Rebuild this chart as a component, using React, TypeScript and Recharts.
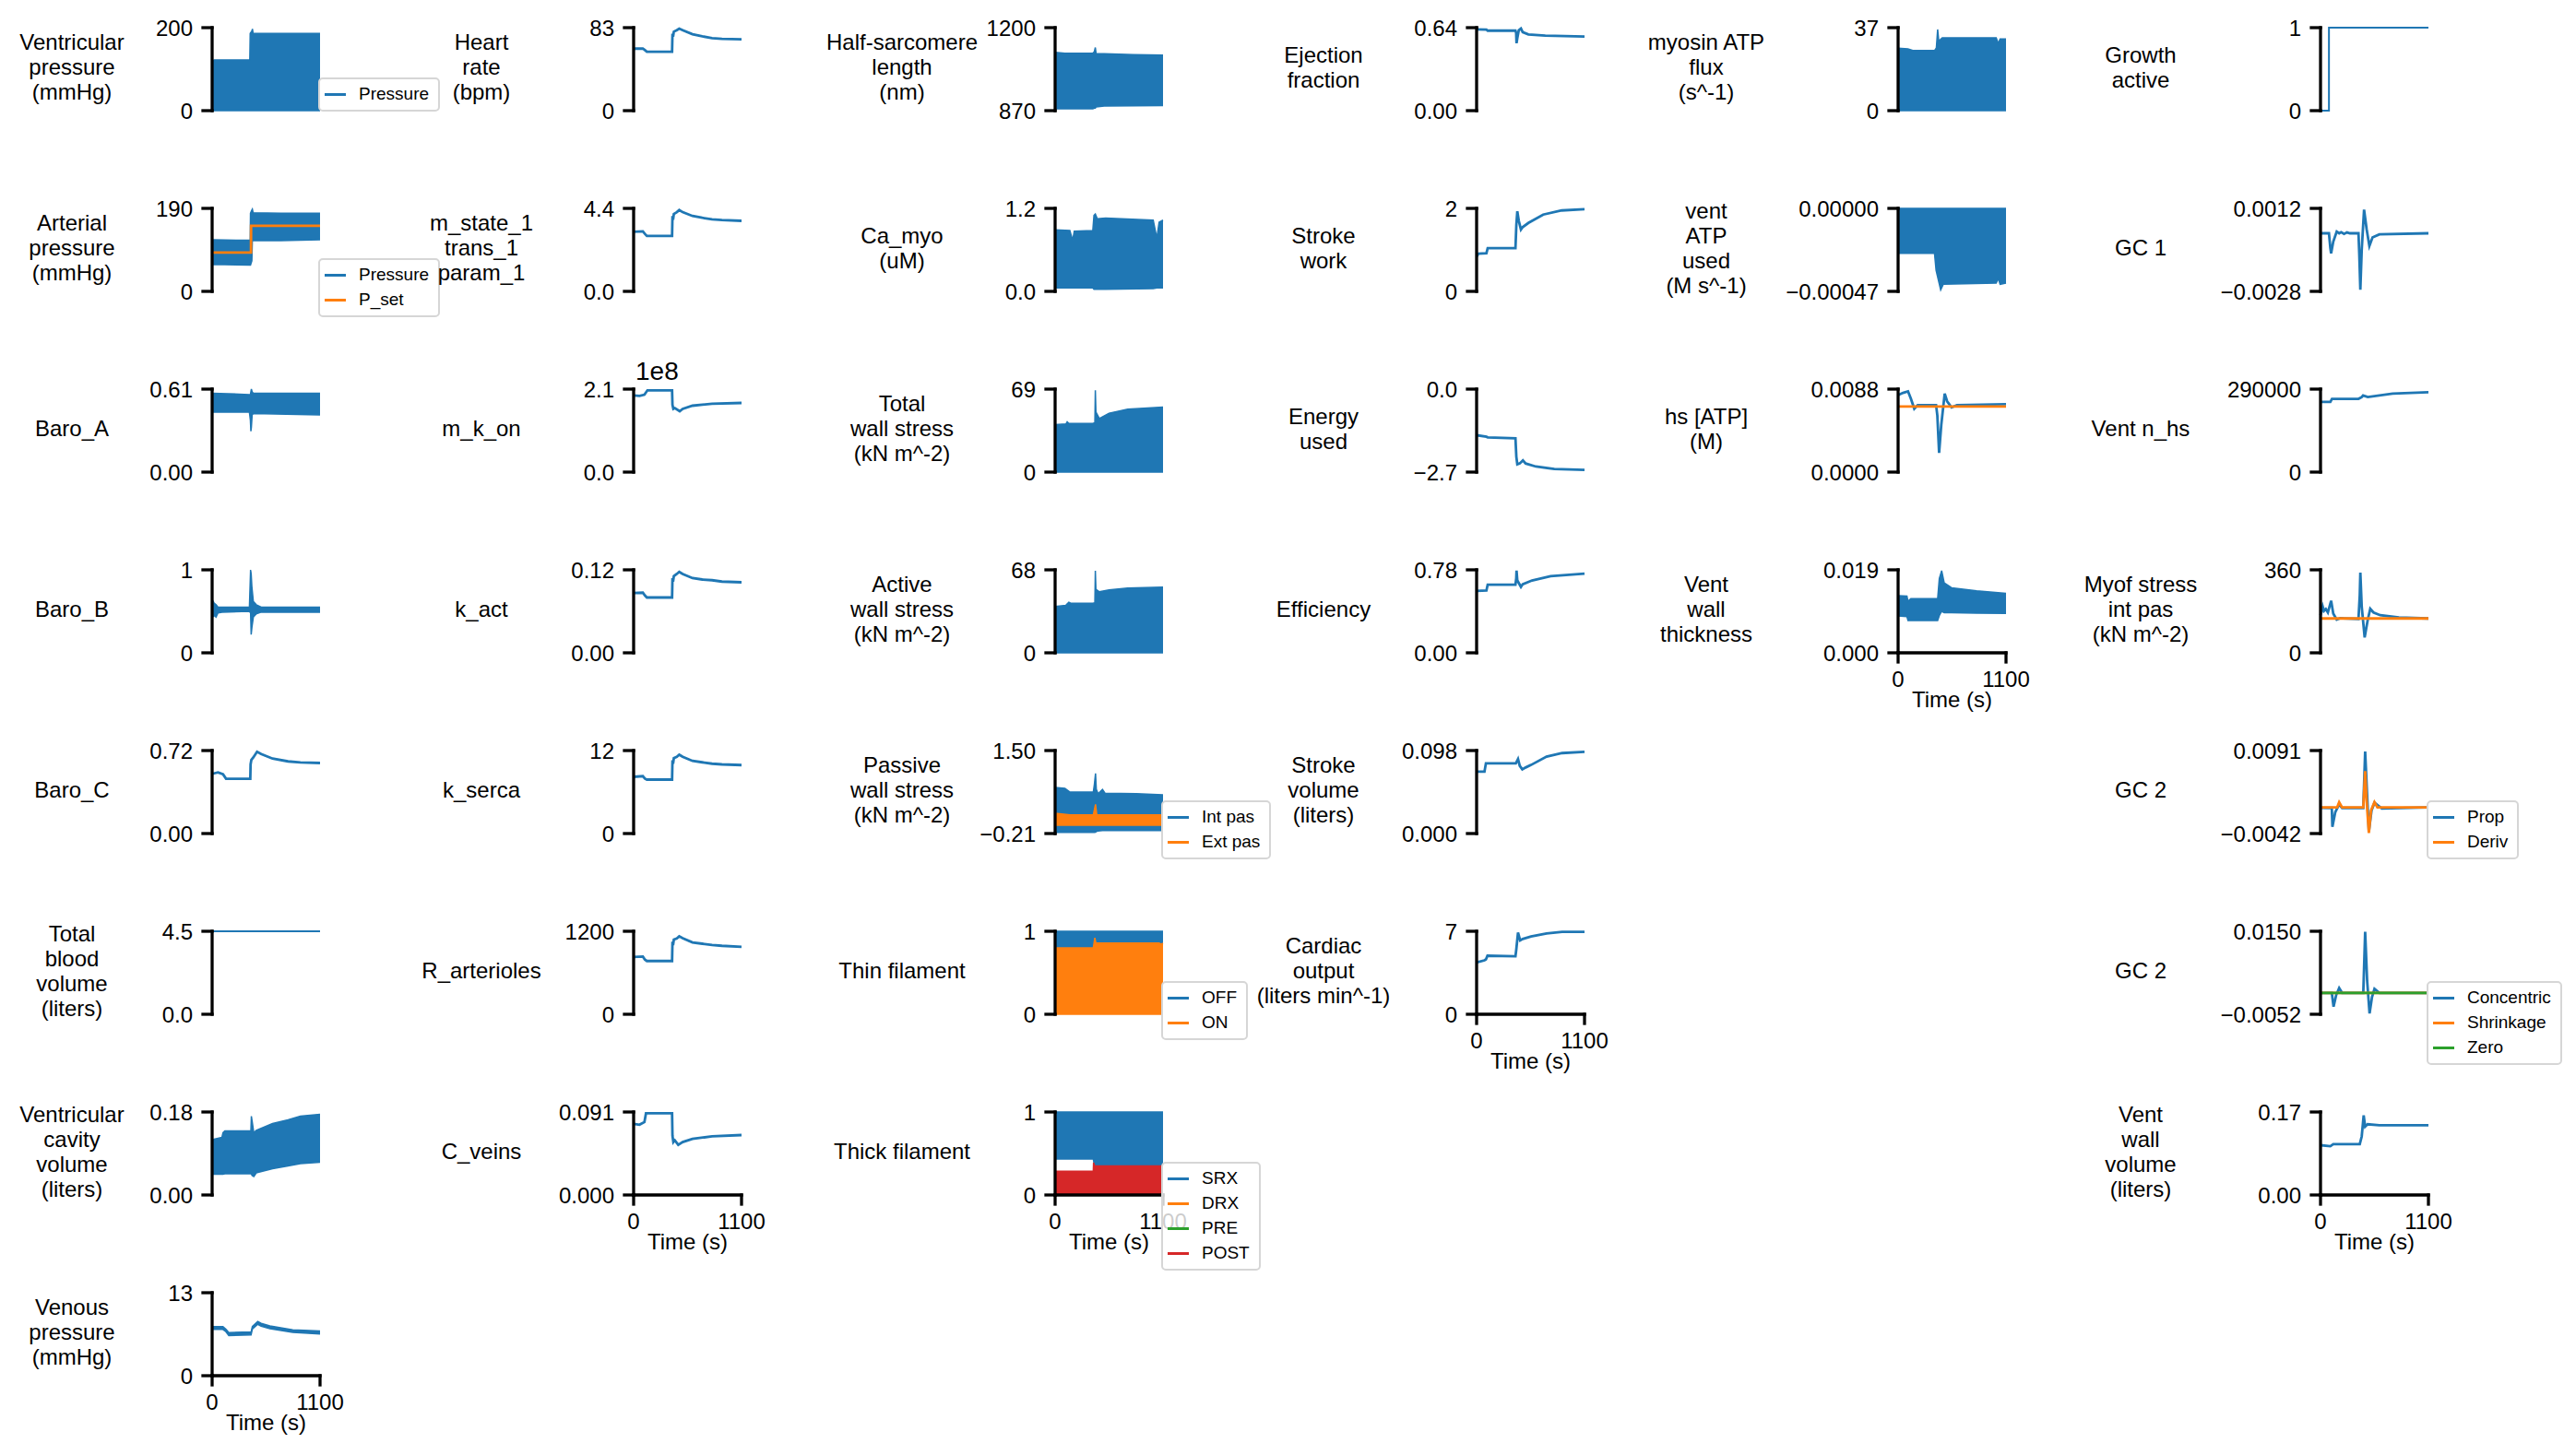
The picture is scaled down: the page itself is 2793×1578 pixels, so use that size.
import React from 'react';
import { ComposedChart, Line, Area, XAxis, YAxis } from 'recharts';

const BLUE = '#1f77b4';
const ORANGE = '#ff7f0e';
const GREEN = '#2ca02c';
const RED = '#d62728';
const FONT = '"Liberation Sans", Arial, Helvetica, sans-serif';

// --- time axis ---
const timeTicks = [0, 1100];
const timeTickLabels = ['0', '1100'];

// --- column 1 --- (bands are [t, low, high], lines are [t, value])
const ventPressure = [[0, 0, 118], [20, 0, 122], [384, 0, 122], [388, 0, 186], [405, 0, 192], [411, 0, 197], [418, 0, 186], [700, 0, 186], [1100, 0, 186]];
const artPressure = [[0, 60, 116], [10, 62, 118], [388, 60, 117], [391, 60, 179], [405, 70, 186], [410, 116, 188], [418, 116, 180], [700, 116, 179], [1100, 118, 179]];
const artPSet = [[0, 89], [396, 89], [397, 150], [1100, 150]];
const baroA = [[0, 0.44, 0.58], [380, 0.44, 0.57], [390, 0.38, 0.57], [395, 0.3, 0.59], [400, 0.33, 0.61], [408, 0.42, 0.59], [420, 0.43, 0.58], [1100, 0.42, 0.58]];
const baroB = [[0, 0.5, 0.55], [5, 0.43, 0.63], [20, 0.45, 0.6], [40, 0.43, 0.58], [60, 0.48, 0.55], [100, 0.49, 0.55], [380, 0.5, 0.55], [392, 0.48, 1.0], [398, 0.22, 0.95], [405, 0.3, 0.8], [420, 0.43, 0.62], [450, 0.47, 0.58], [500, 0.49, 0.55], [1100, 0.49, 0.55]];
const baroC = [[0, 0.518], [60, 0.53], [111, 0.515], [142, 0.475], [389, 0.475], [392, 0.6], [400, 0.64], [420, 0.66], [458, 0.71], [500, 0.69], [616, 0.65], [774, 0.626], [900, 0.617], [1100, 0.612]];
const totalBloodVolume = [[0, 4.5], [1100, 4.5]];
const ventCavityVolume = [[0, 0.045, 0.12], [100, 0.045, 0.125], [111, 0.045, 0.135], [130, 0.046, 0.139], [395, 0.046, 0.139], [400, 0.045, 0.171], [408, 0.042, 0.16], [425, 0.04, 0.135], [450, 0.048, 0.14], [616, 0.057, 0.155], [774, 0.063, 0.163], [900, 0.068, 0.171], [1100, 0.071, 0.175]];
const venousPressure = [[0, 7.25, 7.7], [110, 7.25, 7.7], [140, 6.9, 7.3], [170, 6.3, 6.75], [397, 6.4, 6.85], [410, 7.3, 7.7], [465, 8.05, 8.5], [500, 7.75, 8.2], [589, 7.35, 7.8], [822, 6.8, 7.2], [1100, 6.55, 7.0]];

// --- column 2 ---
const heartRate = [[0, 61.8], [20, 62], [94, 62], [110, 61], [135, 58.9], [392, 58.9], [396, 77], [402, 74], [410, 79], [440, 80.5], [465, 82], [500, 80.5], [600, 76.4], [700, 74.3], [800, 72.6], [900, 71.8], [1100, 71.4]];
const mState1 = [[0, 3.16], [94, 3.18], [115, 3.05], [135, 2.94], [392, 2.94], [396, 4.0], [402, 3.8], [410, 4.1], [440, 4.2], [465, 4.31], [500, 4.2], [600, 4.0], [700, 3.9], [800, 3.82], [900, 3.78], [1100, 3.74]];
const mKOn = [[0, 1.94e8], [60, 1.93e8], [110, 1.96e8], [141, 2.07e8], [392, 2.07e8], [396, 1.7e8], [405, 1.6e8], [420, 1.62e8], [470, 1.54e8], [500, 1.6e8], [600, 1.68e8], [800, 1.73e8], [1100, 1.75e8]];
const kAct = [[0, 0.0865], [94, 0.087], [115, 0.083], [135, 0.08], [392, 0.08], [396, 0.108], [402, 0.103], [410, 0.111], [440, 0.114], [465, 0.117], [500, 0.114], [600, 0.108], [700, 0.106], [800, 0.105], [900, 0.103], [1100, 0.102]];
const kSerca = [[0, 8.2], [94, 8.3], [115, 7.95], [135, 7.8], [392, 7.8], [396, 10.6], [402, 10.1], [410, 10.9], [440, 11.1], [465, 11.4], [500, 11.1], [600, 10.5], [700, 10.3], [800, 10.1], [900, 10.0], [1100, 9.9]];
const rArterioles = [[0, 828], [94, 835], [115, 790], [135, 770], [392, 770], [396, 1050], [402, 1000], [410, 1080], [440, 1097], [465, 1128], [500, 1100], [600, 1039], [700, 1020], [800, 1003], [900, 990], [1100, 976]];
const cVeins = [[0, 0.078], [60, 0.077], [110, 0.08], [126, 0.0896], [392, 0.0896], [396, 0.065], [405, 0.058], [420, 0.06], [455, 0.055], [500, 0.058], [600, 0.0615], [800, 0.0643], [1100, 0.0657]];

// --- column 3 ---
const hsLength = [[0, 877, 1102], [100, 877, 1098], [384, 877, 1098], [400, 880, 1105], [410, 880, 1121], [418, 885, 1097], [500, 888, 1096], [800, 889, 1093], [1100, 890, 1091]];
const caMyo = [[0, 0.05, 0.89], [150, 0.05, 0.88], [179, 0.05, 0.74], [195, 0.05, 0.87], [384, 0.05, 0.88], [396, 0.03, 1.1], [410, 0.03, 1.12], [430, 0.03, 1.05], [515, 0.03, 1.06], [1000, 0.04, 1.03], [1037, 0.05, 0.77], [1060, 0.05, 1.0], [1100, 0.05, 1.03]];
const totalWallStress = [[0, 0, 39.4], [110, 0, 40], [123, 0, 41.8], [140, 0, 40.4], [384, 0, 40.4], [405, 0, 41], [410, 0, 68], [416, 0, 50], [451, 0, 44.6], [550, 0, 49], [740, 0, 52.3], [1100, 0, 54]];
const activeWallStress = [[0, 0, 38], [110, 0, 39], [140, 0, 41.4], [160, 0, 40.7], [384, 0, 40.7], [405, 0, 41], [410, 0, 67.3], [416, 0, 52], [451, 0, 50], [550, 0, 51.5], [740, 0, 53], [1100, 0, 53.8]];
const intPas = [[0, -0.188, 0.739], [100, -0.188, 0.72], [152, -0.188, 0.645], [389, -0.188, 0.645], [400, -0.185, 0.8], [412, -0.18, 1.03], [420, -0.17, 0.7], [439, -0.16, 0.61], [483, -0.15, 0.7], [510, -0.15, 0.62], [828, -0.15, 0.61], [1100, -0.15, 0.587]];
const extPas = [[0, -0.04, 0.21], [152, -0.04, 0.174], [389, -0.04, 0.174], [412, -0.04, 0.39], [425, -0.04, 0.174], [1100, -0.04, 0.174]];
const thinOff = [[0, 0.15, 1], [1100, 0.15, 1]];
const thinOn = [[0, 0, 0.8], [389, 0, 0.8], [405, 0, 0.92], [415, 0, 0.86], [1060, 0, 0.857], [1080, 0, 0.845], [1100, 0, 0.855]];
const thickSrx = [[0, 0.434, 1], [389, 0.434, 1], [400, 0.36, 1], [1100, 0.349, 1]];
const thickDrx = [[0, 0.05, 0.2], [1100, 0.05, 0.2]];
const thickPre = [[0, 0, 0.05], [1100, 0, 0.05]];
const thickPost = [[0, 0, 0.285], [389, 0, 0.285], [392, 0, 0.39], [405, 0, 0.35], [1100, 0, 0.349]];

// --- column 4 ---
const ejectionFraction = [[0, 0.627], [100, 0.625], [113, 0.617], [396, 0.617], [403, 0.6], [407, 0.52], [415, 0.56], [430, 0.62], [452, 0.633], [470, 0.605], [528, 0.588], [700, 0.578], [1100, 0.571]];
const strokeWork = [[0, 0.84], [20, 0.91], [100, 0.92], [113, 1.04], [396, 1.04], [405, 1.6], [415, 1.93], [430, 1.7], [452, 1.49], [470, 1.55], [528, 1.65], [679, 1.85], [867, 1.95], [1100, 1.98]];
const energyUsed = [[0, -1.5], [100, -1.55], [113, -1.57], [396, -1.6], [405, -2.2], [415, -2.45], [440, -2.42], [472, -2.32], [500, -2.42], [604, -2.52], [792, -2.6], [1100, -2.63]];
const efficiency = [[0, 0.582], [100, 0.585], [113, 0.641], [396, 0.64], [404, 0.7], [407, 0.772], [415, 0.68], [452, 0.62], [470, 0.645], [565, 0.68], [754, 0.72], [1100, 0.744]];
const strokeVolume = [[0, 0.073], [80, 0.073], [95, 0.083], [400, 0.083], [422, 0.088], [440, 0.08], [466, 0.0758], [500, 0.078], [555, 0.081], [713, 0.0908], [872, 0.095], [1100, 0.0966]];
const cardiacOutput = [[0, 4.38], [15, 4.4], [80, 4.55], [95, 4.63], [111, 4.94], [396, 4.89], [405, 5.5], [422, 6.9], [444, 6.23], [470, 6.35], [555, 6.56], [713, 6.82], [872, 6.95], [1100, 6.95]];

// --- column 5 ---
const myosinFlux = [[0, 0, 27.9], [100, 0, 27.5], [150, 0, 26.8], [371, 0, 26.8], [390, 0, 28], [403, 0, 36.2], [415, 0, 31], [450, 0, 32.5], [1000, 0, 32.5], [1021, 0, 30], [1040, 0, 32], [1100, 0, 32]];
const ventAtpUsed = [[0, -0.000254, 0], [371, -0.000254, 0], [387, -0.00035, 0], [434, -0.000462, 0], [460, -0.00043, 0], [1000, -0.000423, 0], [1021, -0.000397, 0], [1040, -0.00043, 0], [1100, -0.000423, 0]];
const hsAtp = [[0, 0.00817], [50, 0.0084], [101, 0.00856], [130, 0.0078], [165, 0.00672], [200, 0.0071], [387, 0.0071], [400, 0.006], [418, 0.00203], [440, 0.005], [475, 0.00832], [500, 0.0075], [545, 0.00687], [600, 0.0071], [1100, 0.0072]];
const hsAtpRef = [[0, 0.00696], [1100, 0.00696]];
const ventWallThickness = [[0, 0.00847, 0.0131], [90, 0.0083, 0.013], [101, 0.0074, 0.0118], [130, 0.0074, 0.0124], [403, 0.0074, 0.0124], [420, 0.0085, 0.017], [444, 0.0095, 0.0188], [470, 0.0092, 0.016], [545, 0.0092, 0.0149], [800, 0.0091, 0.0142], [1100, 0.009, 0.0136]];

// --- column 6 ---
const growthActive = [[0, 0], [86, 0], [86, 1], [1100, 1]];
const gc1 = [[0, 0], [86, 0], [100, -0.0007], [108, -0.00097], [130, -0.0004], [165, 0.00008], [190, 0], [210, 0.00005], [240, -0.00003], [270, 0.00004], [300, 0], [387, 0], [395, -0.001], [406, -0.00272], [420, -0.0008], [444, 0.00114], [470, 0.0002], [498, -0.00061], [530, -0.0002], [600, -0.00005], [1100, 0]];
const ventNhs = [[0, 245000], [100, 245000], [117, 255900], [387, 256000], [420, 262000], [434, 268000], [482, 262000], [735, 274000], [1100, 279000]];
const myofIntPas = [[0, 163], [22, 201], [35, 182], [54, 190], [75, 175], [108, 226], [130, 170], [165, 144], [200, 150], [387, 147], [400, 250], [406, 348], [420, 200], [450, 67], [480, 140], [507, 191], [540, 175], [609, 163], [799, 153], [1100, 149]];
const myofRef = [[0, 149], [1100, 149]];
const gc2Prop = [[0, -0.00009], [115, -0.0001], [121, -0.00314], [150, -0.0008], [190, 0.00049], [220, -0.0001], [436, -0.0001], [455, 0.00895], [475, 0.002], [493, -0.00386], [520, -0.0005], [550, 0.00073], [625, -0.0002], [1100, 0]];
const gc2Deriv = [[0, 0], [170, 0], [190, 0.00083], [220, 0], [436, 0], [455, 0.0058], [470, 0.001], [493, -0.0041], [515, -0.0005], [550, 0.00083], [580, 0], [1100, 0]];
const gc2Concentric = [[0, 0], [115, 0], [133, -0.00336], [160, -0.0005], [190, 0.0012], [220, 0], [436, 0], [455, 0.0149], [475, 0.003], [500, -0.005], [525, -0.001], [550, 0.001], [600, 0], [1100, 0]];
const gc2Shrinkage = [[0, 0], [1100, 0]];
const gc2Zero = [[0, 0], [1100, 0]];
const ventWallVolume = [[0, 0.102], [100, 0.1], [130, 0.104], [400, 0.104], [420, 0.12], [440, 0.163], [455, 0.14], [480, 0.145], [600, 0.143], [1100, 0.143]];

type Series = { name?: string; color: string; band?: boolean; pts: number[][]; width?: number };
type PanelDef = {
  col: number;
  row: number;
  label: string[];
  ticks: number[];
  tickLabels: string[];
  series: Series[];
  legend?: boolean;
  time?: boolean;
  offset?: string;
};

const panels: PanelDef[] = [
  // column 1
  { col: 0, row: 0, label: ['Ventricular', 'pressure', '(mmHg)'], ticks: [0, 200], tickLabels: ['0', '200'], legend: true, series: [{ name: 'Pressure', color: BLUE, band: true, pts: ventPressure }] },
  { col: 0, row: 1, label: ['Arterial', 'pressure', '(mmHg)'], ticks: [0, 190], tickLabels: ['0', '190'], legend: true, series: [{ name: 'Pressure', color: BLUE, band: true, pts: artPressure }, { name: 'P_set', color: ORANGE, pts: artPSet }] },
  { col: 0, row: 2, label: ['Baro_A'], ticks: [0, 0.61], tickLabels: ['0.00', '0.61'], series: [{ color: BLUE, band: true, pts: baroA }] },
  { col: 0, row: 3, label: ['Baro_B'], ticks: [0, 1], tickLabels: ['0', '1'], series: [{ color: BLUE, band: true, pts: baroB }] },
  { col: 0, row: 4, label: ['Baro_C'], ticks: [0, 0.72], tickLabels: ['0.00', '0.72'], series: [{ color: BLUE, pts: baroC }] },
  { col: 0, row: 5, label: ['Total', 'blood', 'volume', '(liters)'], ticks: [0, 4.5], tickLabels: ['0.0', '4.5'], series: [{ color: BLUE, pts: totalBloodVolume, width: 2 }] },
  { col: 0, row: 6, label: ['Ventricular', 'cavity', 'volume', '(liters)'], ticks: [0, 0.18], tickLabels: ['0.00', '0.18'], series: [{ color: BLUE, band: true, pts: ventCavityVolume }] },
  { col: 0, row: 7, label: ['Venous', 'pressure', '(mmHg)'], ticks: [0, 13], tickLabels: ['0', '13'], time: true, series: [{ color: BLUE, band: true, pts: venousPressure }] },
  // column 2
  { col: 1, row: 0, label: ['Heart', 'rate', '(bpm)'], ticks: [0, 83], tickLabels: ['0', '83'], series: [{ color: BLUE, pts: heartRate }] },
  { col: 1, row: 1, label: ['m_state_1', 'trans_1', 'param_1'], ticks: [0, 4.4], tickLabels: ['0.0', '4.4'], series: [{ color: BLUE, pts: mState1 }] },
  { col: 1, row: 2, label: ['m_k_on'], ticks: [0, 2.1e8], tickLabels: ['0.0', '2.1'], offset: '1e8', series: [{ color: BLUE, pts: mKOn }] },
  { col: 1, row: 3, label: ['k_act'], ticks: [0, 0.12], tickLabels: ['0.00', '0.12'], series: [{ color: BLUE, pts: kAct }] },
  { col: 1, row: 4, label: ['k_serca'], ticks: [0, 12], tickLabels: ['0', '12'], series: [{ color: BLUE, pts: kSerca }] },
  { col: 1, row: 5, label: ['R_arterioles'], ticks: [0, 1200], tickLabels: ['0', '1200'], series: [{ color: BLUE, pts: rArterioles }] },
  { col: 1, row: 6, label: ['C_veins'], ticks: [0, 0.091], tickLabels: ['0.000', '0.091'], time: true, series: [{ color: BLUE, pts: cVeins }] },
  // column 3
  { col: 2, row: 0, label: ['Half-sarcomere', 'length', '(nm)'], ticks: [870, 1200], tickLabels: ['870', '1200'], series: [{ color: BLUE, band: true, pts: hsLength }] },
  { col: 2, row: 1, label: ['Ca_myo', '(uM)'], ticks: [0, 1.2], tickLabels: ['0.0', '1.2'], series: [{ color: BLUE, band: true, pts: caMyo }] },
  { col: 2, row: 2, label: ['Total', 'wall stress', '(kN m^-2)'], ticks: [0, 69], tickLabels: ['0', '69'], series: [{ color: BLUE, band: true, pts: totalWallStress }] },
  { col: 2, row: 3, label: ['Active', 'wall stress', '(kN m^-2)'], ticks: [0, 68], tickLabels: ['0', '68'], series: [{ color: BLUE, band: true, pts: activeWallStress }] },
  { col: 2, row: 4, label: ['Passive', 'wall stress', '(kN m^-2)'], ticks: [-0.21, 1.5], tickLabels: ['\u22120.21', '1.50'], legend: true, series: [{ name: 'Int pas', color: BLUE, band: true, pts: intPas }, { name: 'Ext pas', color: ORANGE, band: true, pts: extPas }] },
  { col: 2, row: 5, label: ['Thin filament'], ticks: [0, 1], tickLabels: ['0', '1'], legend: true, series: [{ name: 'OFF', color: BLUE, band: true, pts: thinOff }, { name: 'ON', color: ORANGE, band: true, pts: thinOn }] },
  { col: 2, row: 6, label: ['Thick filament'], ticks: [0, 1], tickLabels: ['0', '1'], legend: true, time: true, series: [{ name: 'SRX', color: BLUE, band: true, pts: thickSrx }, { name: 'DRX', color: ORANGE, band: true, pts: thickDrx }, { name: 'PRE', color: GREEN, band: true, pts: thickPre }, { name: 'POST', color: RED, band: true, pts: thickPost }] },
  // column 4
  { col: 3, row: 0, label: ['Ejection', 'fraction'], ticks: [0, 0.64], tickLabels: ['0.00', '0.64'], series: [{ color: BLUE, pts: ejectionFraction }] },
  { col: 3, row: 1, label: ['Stroke', 'work'], ticks: [0, 2], tickLabels: ['0', '2'], series: [{ color: BLUE, pts: strokeWork }] },
  { col: 3, row: 2, label: ['Energy', 'used'], ticks: [-2.7, 0], tickLabels: ['\u22122.7', '0.0'], series: [{ color: BLUE, pts: energyUsed }] },
  { col: 3, row: 3, label: ['Efficiency'], ticks: [0, 0.78], tickLabels: ['0.00', '0.78'], series: [{ color: BLUE, pts: efficiency }] },
  { col: 3, row: 4, label: ['Stroke', 'volume', '(liters)'], ticks: [0, 0.098], tickLabels: ['0.000', '0.098'], series: [{ color: BLUE, pts: strokeVolume }] },
  { col: 3, row: 5, label: ['Cardiac', 'output', '(liters min^-1)'], ticks: [0, 7], tickLabels: ['0', '7'], time: true, series: [{ color: BLUE, pts: cardiacOutput }] },
  // column 5
  { col: 4, row: 0, label: ['myosin ATP', 'flux', '(s^-1)'], ticks: [0, 37], tickLabels: ['0', '37'], series: [{ color: BLUE, band: true, pts: myosinFlux }] },
  { col: 4, row: 1, label: ['vent', 'ATP', 'used', '(M s^-1)'], ticks: [-0.00047, 0], tickLabels: ['\u22120.00047', '0.00000'], series: [{ color: BLUE, band: true, pts: ventAtpUsed }] },
  { col: 4, row: 2, label: ['hs [ATP]', '(M)'], ticks: [0, 0.0088], tickLabels: ['0.0000', '0.0088'], series: [{ color: BLUE, pts: hsAtp }, { color: ORANGE, pts: hsAtpRef }] },
  { col: 4, row: 3, label: ['Vent', 'wall', 'thickness'], ticks: [0, 0.019], tickLabels: ['0.000', '0.019'], time: true, series: [{ color: BLUE, band: true, pts: ventWallThickness }] },
  // column 6
  { col: 5, row: 0, label: ['Growth', 'active'], ticks: [0, 1], tickLabels: ['0', '1'], series: [{ color: BLUE, pts: growthActive, width: 2 }] },
  { col: 5, row: 1, label: ['GC 1'], ticks: [-0.0028, 0.0012], tickLabels: ['\u22120.0028', '0.0012'], series: [{ color: BLUE, pts: gc1 }] },
  { col: 5, row: 2, label: ['Vent n_hs'], ticks: [0, 290000], tickLabels: ['0', '290000'], series: [{ color: BLUE, pts: ventNhs }] },
  { col: 5, row: 3, label: ['Myof stress', 'int pas', '(kN m^-2)'], ticks: [0, 360], tickLabels: ['0', '360'], series: [{ color: BLUE, pts: myofIntPas }, { color: ORANGE, pts: myofRef }] },
  { col: 5, row: 4, label: ['GC 2'], ticks: [-0.0042, 0.0091], tickLabels: ['\u22120.0042', '0.0091'], legend: true, series: [{ name: 'Prop', color: BLUE, pts: gc2Prop }, { name: 'Deriv', color: ORANGE, pts: gc2Deriv }] },
  { col: 5, row: 5, label: ['GC 2'], ticks: [-0.0052, 0.015], tickLabels: ['\u22120.0052', '0.0150'], legend: true, series: [{ name: 'Concentric', color: BLUE, pts: gc2Concentric }, { name: 'Shrinkage', color: ORANGE, pts: gc2Shrinkage }, { name: 'Zero', color: GREEN, pts: gc2Zero }] },
  { col: 5, row: 6, label: ['Vent', 'wall', 'volume', '(liters)'], ticks: [0, 0.17], tickLabels: ['0.00', '0.17'], time: true, series: [{ color: BLUE, pts: ventWallVolume }] },
];

// layout (px)
const COL_X = [230, 687, 1144, 1601, 2058, 2516];
const LABEL_X = [78, 522, 978, 1435, 1850, 2321];
const ROW_Y = 29.5;
const ROW_STEP = 196;
const PLOT_H = 90;
const PLOT_W = 117;
const YW = 170;
const TOPPAD = 20;
const RIGHTPAD = 50;
const BOTPAD = 70;
const LINE_H = 27;

const axisStyle = { stroke: '#000', strokeWidth: 3.3, strokeLinecap: 'square' as const };
const tickFont = { fill: '#000', fontSize: 24, fontFamily: FONT };

function Panel({ p }: { p: PanelDef }) {
  const left = COL_X[p.col];
  const top = ROW_Y + ROW_STEP * p.row;
  const n = p.label.length;
  return (
    <>
      <div style={{ position: 'absolute', left: left - YW, top: top - TOPPAD }}>
        <ComposedChart
          width={YW + PLOT_W + RIGHTPAD}
          height={TOPPAD + PLOT_H + BOTPAD}
          margin={{ top: TOPPAD, right: RIGHTPAD, bottom: p.time ? 0 : BOTPAD, left: 0 }}
        >
          <XAxis
            type="number"
            dataKey="t"
            domain={[0, 1100]}
            ticks={timeTicks}
            interval={0}
            tickFormatter={(v: number, i: number) => timeTickLabels[timeTicks.indexOf(v)] ?? timeTickLabels[i]}
            hide={!p.time}
            height={BOTPAD}
            axisLine={axisStyle}
            tickLine={axisStyle}
            tickSize={10}
            tickMargin={10}
            tick={tickFont}
          />
          <YAxis
            type="number"
            domain={[p.ticks[0], p.ticks[1]]}
            ticks={p.ticks}
            interval={0}
            tickFormatter={(v: number, i: number) => p.tickLabels[p.ticks.indexOf(v)] ?? p.tickLabels[i]}
            width={YW}
            axisLine={axisStyle}
            tickLine={axisStyle}
            tickSize={10}
            tickMargin={11}
            tick={tickFont}
          />
          {p.series.map((s, i) =>
            s.band ? (
              <Area
                key={i}
                data={s.pts.map((r) => ({ t: r[0], v: [r[1], r[2]] }))}
                dataKey="v"
                type="linear"
                stroke={s.color}
                strokeWidth={1.5}
                fill={s.color}
                fillOpacity={1}
                dot={false}
                activeDot={false}
                isAnimationActive={false}
              />
            ) : (
              <Line
                key={i}
                data={s.pts.map((r) => ({ t: r[0], v: r[1] }))}
                dataKey="v"
                type="linear"
                stroke={s.color}
                strokeWidth={s.width ?? 2.8}
                dot={false}
                activeDot={false}
                isAnimationActive={false}
              />
            )
          )}
        </ComposedChart>
      </div>
      {p.offset && (
        <div style={{ position: 'absolute', left: left + 2, top: top - 33, fontSize: 28, lineHeight: '28px', fontFamily: FONT }}>
          {p.offset}
        </div>
      )}
      {p.time && (
        <div
          style={{
            position: 'absolute',
            left: left + PLOT_W / 2 - 100,
            width: 200,
            top: top + PLOT_H + 39,
            textAlign: 'center',
            fontSize: 24,
            lineHeight: '24px',
            fontFamily: FONT,
          }}
        >
          Time (s)
        </div>
      )}
      {p.legend && (
        <div
          style={{
            position: 'absolute',
            left: left + PLOT_W - 2,
            top: top + 54,
            border: '2px solid #d6d6d6',
            borderRadius: 5,
            background: 'rgba(255,255,255,0.8)',
            padding: '3px 10px 3px 5px',
            fontFamily: FONT,
            fontSize: 19,
            whiteSpace: 'nowrap',
          }}
        >
          {p.series.map((s, i) => (
            <div key={i} style={{ display: 'flex', alignItems: 'center', height: 27 }}>
              <span style={{ display: 'inline-block', width: 23, height: 3, background: s.color, marginRight: 14 }} />
              {s.name}
            </div>
          ))}
        </div>
      )}
      <div
        style={{
          position: 'absolute',
          left: LABEL_X[p.col] - 150,
          width: 300,
          top: top + PLOT_H / 2 - (n * LINE_H) / 2 - 2,
          textAlign: 'center',
          fontSize: 24,
          lineHeight: `${LINE_H}px`,
          fontFamily: FONT,
          whiteSpace: 'pre',
        }}
      >
        {p.label.map((l, i) => (
          <div key={i}>{l}</div>
        ))}
      </div>
    </>
  );
}

export default function App() {
  return (
    <div style={{ position: 'relative', width: 2793, height: 1578, background: '#fff', overflow: 'hidden' }}>
      <style>{'body { margin: 0; }'}</style>
      {panels.map((p, i) => (
        <Panel key={i} p={p} />
      ))}
    </div>
  );
}
